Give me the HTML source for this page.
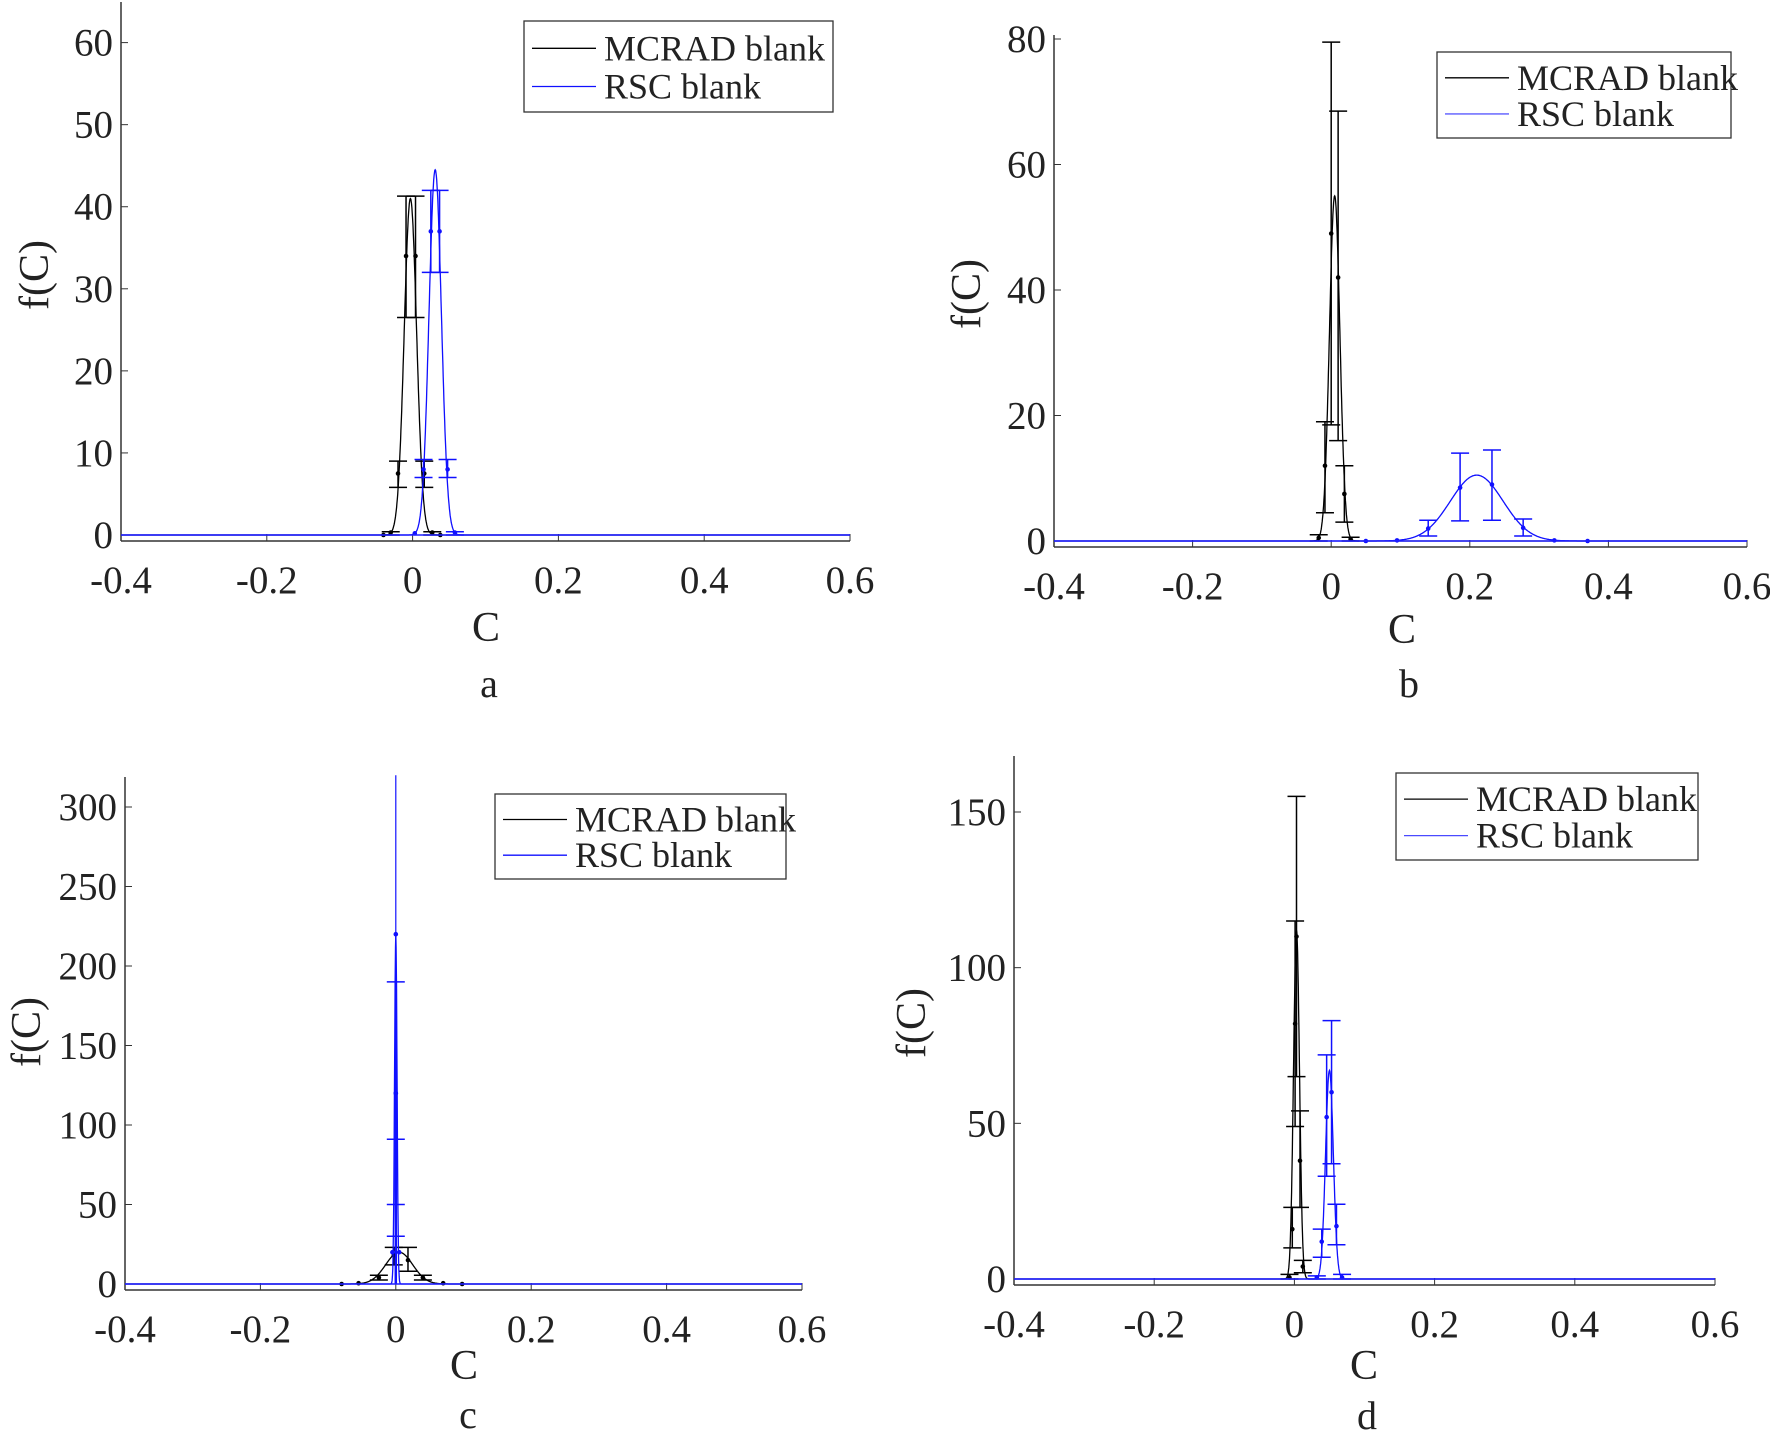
<!DOCTYPE html>
<html><head><meta charset="utf-8">
<style>html,body{margin:0;padding:0;background:#fff;overflow:hidden}svg{display:block}</style>
</head><body>
<svg id="s" xmlns="http://www.w3.org/2000/svg" width="1770" height="1444" viewBox="0 0 1770 1444" font-family="Liberation Serif, serif"></svg>
<script>
const S=document.getElementById('s');let out='';
function T(x,y,t,fs,anchor,extra){out+=`<text x="0" y="0" font-size="${fs}" text-anchor="${anchor||'middle'}" fill="#222" transform="translate(${x},${y}) ${extra||''}">${t}</text>`;}
function panel(p){
 const X=c=>p.xl+(c+0.4)*(p.xr-p.xl);const Y=v=>p.y0-v*p.ky;
 out+=`<line x1="${p.xl}" y1="${p.top}" x2="${p.xl}" y2="${p.y0+6}" stroke="#333" stroke-width="1.5"/>`;
 out+=`<line x1="${p.xl}" y1="${p.y0+6}" x2="${p.xr}" y2="${p.y0+6}" stroke="#333" stroke-width="1.5"/>`;
 [-0.4,-0.2,0,0.2,0.4,0.6].forEach(c=>{const x=X(c);out+=`<line x1="${x}" y1="${p.y0+6}" x2="${x}" y2="${p.y0-1}" stroke="#333" stroke-width="1"/>`;
  T(x,p.y0+58,c===0?'0':(c<0?'-':'')+Math.abs(c).toFixed(1),39);});
 p.yt.forEach(v=>{const y=Y(v);out+=`<line x1="${p.xl}" y1="${y}" x2="${p.xl+7}" y2="${y}" stroke="#333" stroke-width="1"/>`;T(p.xl-8,y+13,v,39,'end');});
 T(p.cx,p.cy+14,'C',42);T(p.lx,p.ly+12,p.lab,40);
 T(p.fx,p.fy,'f(C)',42,'middle','rotate(-90)');
 p.series.forEach(s=>{
  let d='';for(let i=0;i<=2000;i++){const c=-0.4+i/2000;let v=s.h*Math.exp(-((c-s.m)**2)/(2*s.sd*s.sd));if(s.sp){const dc=c-s.sp.m;v=Math.max(v,s.sp.h*Math.exp(-dc*dc/(2*s.sp.sd*s.sp.sd)));}d+=(i?'L':'M')+X(c).toFixed(1)+' '+Y(v).toFixed(1);}
  out+=`<path d="${d}" fill="none" stroke="${s.col}" stroke-width="1.3"/>`;
  (s.pts||[]).forEach(q=>{const x=X(q[0]);out+=`<circle cx="${x}" cy="${Y(q[1])}" r="2.3" fill="${s.col}"/>`;
   if(q[2]!=null){out+=`<line x1="${x}" y1="${Y(q[2])}" x2="${x}" y2="${Y(q[3])}" stroke="${s.col}" stroke-width="1.5"/><line x1="${x-9}" y1="${Y(q[2])}" x2="${x+9}" y2="${Y(q[2])}" stroke="${s.col}" stroke-width="1.5"/><line x1="${x-9}" y1="${Y(q[3])}" x2="${x+9}" y2="${Y(q[3])}" stroke="${s.col}" stroke-width="1.5"/>`;}});
  (s.lines||[]).forEach(l=>{out+=`<line x1="${X(l[0])}" y1="${Y(l[1])}" x2="${X(l[0])}" y2="${Y(l[2])}" stroke="${s.col}" stroke-width="${l[3]||1.3}"/>`;});
 });
 out+=`<line x1="${p.xl}" y1="${p.y0}" x2="${p.xr}" y2="${p.y0}" stroke="#2020ff" stroke-width="1.6"/>`;
 const L=p.leg;out+=`<rect x="${L[0]}" y="${L[1]}" width="${L[2]-L[0]}" height="${L[3]-L[1]}" fill="#fff" stroke="#333" stroke-width="1.3"/>`;
 const h=L[3]-L[1];out+=`<line x1="${L[0]+8}" y1="${L[1]+h*0.3}" x2="${L[0]+72}" y2="${L[1]+h*0.3}" stroke="#000" stroke-width="1.3"/>`;
 out+=`<line x1="${L[0]+8}" y1="${L[1]+h*0.72}" x2="${L[0]+72}" y2="${L[1]+h*0.72}" stroke="${p.legBlue}" stroke-width="1.3"/>`;
 T(L[0]+80,L[1]+h*0.3+12,'MCRAD blank',36,'start');T(L[0]+80,L[1]+h*0.72+12,'RSC blank',36,'start');
}
const K='#000',B='#1010ff';
panel({xl:121,xr:850,y0:535,ky:(535-42.6)/60,top:2,yt:[0,10,20,30,40,50,60],cx:486,cy:627,lx:489,ly:685,lab:'a',fx:48,fy:275,leg:[524,21,833,112],legBlue:B,
 series:[{col:K,m:-0.003,h:41,sd:0.0085,pts:[[-0.009,34,26.5,41.3],[0.004,34,26.5,41.3],[-0.02,7.5,5.8,9],[0.016,7.5,5.8,9],[-0.03,0.3,0,0.4],[0.027,0.3,0,0.4],[-0.04,0],[0.038,0]]},
  {col:B,m:0.031,h:44.5,sd:0.0085,pts:[[0.025,37,32,42],[0.037,37,32,42],[0.015,8,7,9.2],[0.048,8,7,9.2],[0.003,0.2],[0.058,0.3,0,0.4]]}]});
panel({xl:1054,xr:1747,y0:541,ky:(541-39)/80,top:35,yt:[0,20,40,60,80],cx:1402,cy:629,lx:1409,ly:685,lab:'b',fx:980,fy:294,leg:[1437,52,1731,138],legBlue:'#5a5aff',
 series:[{col:K,m:0.005,h:55,sd:0.0075,pts:[[0,49,18.5,79.5],[0.01,42,16,68.5],[-0.009,12,4.5,19],[0.019,7.5,3,12],[-0.018,0.5,0,1],[0.028,0.3,0,0.6]]},
  {col:B,m:0.21,h:10.5,sd:0.038,pts:[[0.05,0],[0.095,0.1],[0.14,2,0.8,3.3],[0.186,8.5,3.2,14],[0.232,9,3.3,14.5],[0.277,2.1,0.8,3.5],[0.322,0.1],[0.37,0]]}]});
panel({xl:125,xr:802,y0:1284,ky:(1284-807)/300,top:777,yt:[0,50,100,150,200,250,300],cx:464,cy:1365,lx:468,ly:1416,lab:'c',fx:40,fy:1032,leg:[495,794,786,879],legBlue:B,
 series:[{col:K,m:0.005,h:20,sd:0.02,pts:[[-0.003,18,12,23],[0.018,15,8,23],[-0.025,4,2.5,5.5],[0.04,4,2.5,5.5],[-0.055,0.5],[0.07,0.5],[-0.08,0],[0.098,0]]},
  {col:B,m:0,h:0,sd:0.01,sp:{m:0,h:220,sd:0.0018},pts:[[0,220],[0,120,50,190],[0,120,30,91],[-0.005,20],[0.005,20]],lines:[[0,0,320,1.2],[0,0,190,2.5]]}]});
panel({xl:1014,xr:1715,y0:1279,ky:(1279-812)/150,top:756,yt:[0,50,100,150],cx:1364,cy:1365,lx:1367,ly:1417,lab:'d',fx:925,fy:1023,leg:[1396,773,1698,860],legBlue:'#4a4aff',
 series:[{col:K,m:0.003,h:112,sd:0.0042,pts:[[0.003,110,65,155],[0.001,82,49,115],[0.008,38,23,54],[-0.003,16,10,23],[0.012,4,2,6],[-0.007,0.5,0,1.5]]},
  {col:B,m:0.05,h:67,sd:0.0055,pts:[[0.046,52,33,72],[0.053,60,37,83],[0.039,12,7,16],[0.06,17,11,24],[0.032,0.5,0,1],[0.068,0.5,0,1.5]]}]});
S.innerHTML=out;
</script>
</body></html>
